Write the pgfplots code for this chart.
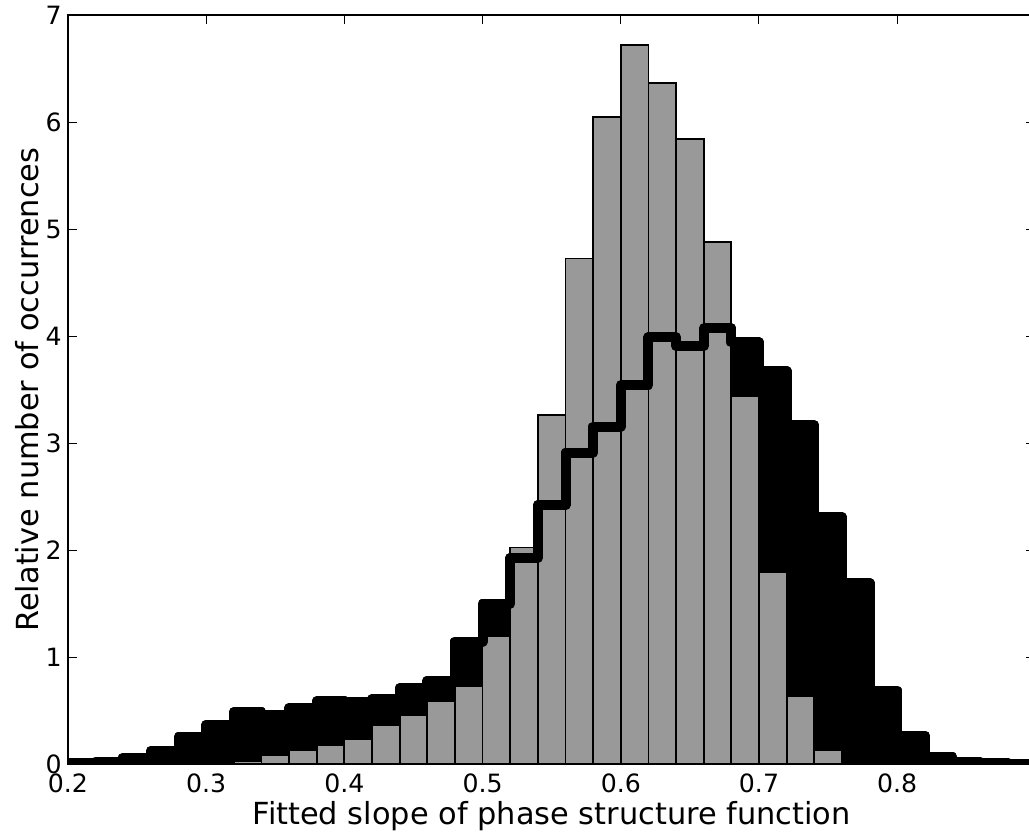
\documentclass[border=0pt]{standalone}
\usepackage{fontspec}
\setmainfont{DejaVu Sans}
\usepackage{pgfplots}
\pgfplotsset{compat=1.18}
\definecolor{histgray}{RGB}{153,153,153}
\begin{document}
\begin{tikzpicture}
\begin{axis}[
  name=ax,
  scale only axis,
  width=483.7pt, height=374.6pt,
  xmin=0.2, xmax=0.9, ymin=0, ymax=7,
  xtick={0.2,0.3,0.4,0.5,0.6,0.7,0.8},
  ytick={0,1,2,3,4,5,6,7},
  xticklabels={0.2,0.3,0.4,0.5,0.6,0.7,0.8},
  tick align=inside,
  major tick length=4.5pt,
  every tick/.style={black, line width=0.5pt},
  axis line style={line width=1pt},
  /pgf/number format/assume math mode=true,
  ticklabel style={font=\fontsize{12.6}{15}\selectfont},
  xticklabel style={anchor=base, inner sep=0pt, yshift=-14pt},
  yticklabel style={anchor=east, inner sep=0pt, xshift=-3pt},
  label style={font=\fontsize{15.2}{18}\selectfont},
  xlabel={Fitted slope of phase structure function},
  ylabel={Relative number of occurrences},
  xlabel style={at={(axis description cs:0.5,0)}, anchor=base, yshift=-30pt},
  ylabel style={at={(axis description cs:-0.031,0.5)}, anchor=base, rotate=0},
]
% black filled histogram (behind)
\addplot[const plot, fill=black, draw=black, line width=5pt, line join=round] coordinates {
(0.20,0.015) (0.22,0.025) (0.24,0.062) (0.26,0.124) (0.28,0.252) (0.30,0.367)
(0.32,0.486) (0.34,0.461) (0.36,0.523) (0.38,0.588) (0.40,0.585) (0.42,0.607)
(0.44,0.710) (0.46,0.780) (0.48,1.146) (0.50,1.498) (0.52,1.928) (0.54,2.420)
(0.56,2.912) (0.58,3.155) (0.60,3.542) (0.62,3.990) (0.64,3.906) (0.66,4.071)
(0.68,3.940) (0.70,3.670) (0.72,3.165) (0.74,2.308) (0.76,1.690) (0.78,0.688)
(0.80,0.267) (0.82,0.065) (0.84,0.019) (0.86,0.010) (0.88,0.005) (0.90,0.005)
} \closedcycle;
% gray histogram
\addplot[ybar interval, fill=histgray, draw=black, line width=0.9pt] coordinates {
(0.32,0.030) (0.34,0.087) (0.36,0.127) (0.38,0.180) (0.40,0.233) (0.42,0.364)
(0.44,0.461) (0.46,0.592) (0.48,0.732) (0.50,1.199) (0.52,2.024) (0.54,3.264)
(0.56,4.725) (0.58,6.050) (0.60,6.716) (0.62,6.364) (0.64,5.844) (0.66,4.879)
(0.68,3.436) (0.70,1.797) (0.72,0.632) (0.74,0.127) (0.76,0.010) (0.78,0)
};
% black step outline on top
\addplot[const plot, draw=black, line width=5pt, line join=round] coordinates {
(0.20,0.015) (0.22,0.025) (0.24,0.062) (0.26,0.124) (0.28,0.252) (0.30,0.367)
(0.32,0.486) (0.34,0.461) (0.36,0.523) (0.38,0.588) (0.40,0.585) (0.42,0.607)
(0.44,0.710) (0.46,0.780) (0.48,1.146) (0.50,1.498) (0.52,1.928) (0.54,2.420)
(0.56,2.912) (0.58,3.155) (0.60,3.542) (0.62,3.990) (0.64,3.906) (0.66,4.071)
(0.68,3.940) (0.70,3.670) (0.72,3.165) (0.74,2.308) (0.76,1.690) (0.78,0.688)
(0.80,0.267) (0.82,0.065) (0.84,0.019) (0.86,0.010) (0.88,0.005) (0.90,0.005)
};
\end{axis}
\pgfresetboundingbox
\useasboundingbox ([xshift=-34pt,yshift=-36.85pt]ax.south west) rectangle ([xshift=480.5pt,yshift=7.5pt]ax.north west);
\end{tikzpicture}
\end{document}
